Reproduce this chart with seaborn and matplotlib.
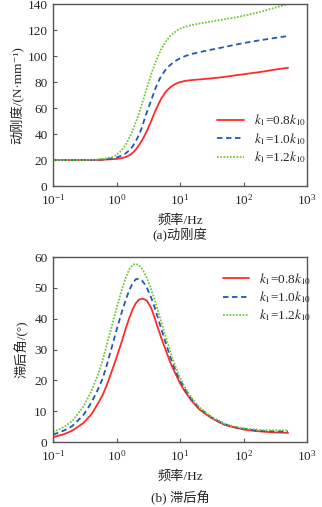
import matplotlib
matplotlib.use('Agg')
import matplotlib.pyplot as plt
import seaborn as sns

# frequency points (Hz), shared by both panels
freq = [0.1, 0.15, 0.2, 0.3, 0.4, 0.5, 0.6, 0.7, 0.8, 0.9, 1.0, 1.2, 1.4, 1.6, 1.8, 2.0,
        2.25, 2.5, 2.75, 3.0, 3.5, 4.0, 4.5, 5.0, 6.0, 7.0, 8.0, 9.0, 10, 12, 15, 20,
        30, 40, 50, 70, 100, 150, 200, 300, 500]

# (a) dynamic stiffness, N/mm
stiff_08 = [20, 20, 20, 20, 20, 20.1, 20.2, 20.4, 20.6, 20.7, 20.9, 21.5, 22.4, 23.8, 25.6, 28,
            31.5, 35, 38.8, 42.5, 50, 57, 62.5, 67, 72.8, 76, 78, 79.2, 80, 80.9, 81.5, 82,
            82.8, 83.4, 84, 85, 86, 87.2, 88, 89.5, 91]
stiff_10 = [20, 20, 20, 20, 20, 20.2, 20.4, 20.7, 21.1, 21.5, 22, 23.4, 25.3, 27.8, 30.8, 34.5,
            39.5, 45, 51.5, 57, 66, 74, 80, 84.5, 90, 93.2, 95.5, 97.1, 98.3, 100, 101.5, 103,
            104.8, 106, 107, 108.5, 110, 111.5, 112.5, 113.8, 115.5]
stiff_12 = [20, 20, 20, 20, 20.2, 20.5, 20.9, 21.4, 22, 22.8, 24, 27.5, 32, 37.5, 43, 49,
            56, 63, 69.5, 75.5, 86, 94, 100, 105, 111.5, 115.5, 118, 119.8, 121, 122.5, 123.8, 125,
            126.5, 127.5, 128.3, 129.5, 131, 133, 134.5, 137, 140]

# (b) lag angle, degrees
lag_08 = [1.6, 2.6, 3.7, 6.2, 9, 12.3, 15.2, 18.5, 21.8, 24.8, 27.5, 32.5, 37, 40.5, 43.2, 45,
          46.2, 46.5, 46.3, 45.8, 43.5, 40, 36.8, 34, 29.5, 25.8, 23.2, 21, 19, 16.3, 13.5, 10.6,
          8.0, 6.6, 5.6, 4.8, 4.1, 3.6, 3.4, 3.15, 3.0]
lag_10 = [2.4, 3.8, 5.2, 8.8, 12.8, 16.8, 20.5, 25, 29.3, 33, 36.5, 42, 46.3, 49.5, 51.6, 52.8,
          53, 52.4, 51.3, 50, 46.8, 43.5, 40, 37, 31.8, 27.6, 24.4, 21.9, 20, 17, 14, 11,
          8.2, 6.8, 5.8, 4.9, 4.3, 3.85, 3.6, 3.45, 3.4]
lag_12 = [3.2, 5.0, 6.8, 11.5, 16.5, 21.5, 26.5, 31.5, 36, 40, 43.5, 49.3, 53.5, 56.2, 57.5, 57.8,
          57.3, 56.2, 54.8, 53.2, 49.5, 46, 42.4, 39.2, 33.8, 29.3, 25.8, 23, 20.8, 17.6, 14.4, 11.3,
          8.4, 7.0, 6.0, 5.1, 4.5, 4.1, 3.9, 3.85, 3.8]

labels = [r'$k_1$=0.8$k_{10}$', r'$k_1$=1.0$k_{10}$', r'$k_1$=1.2$k_{10}$']
colors = ['#ff2a2a', '#2456b4', '#72c83a']
styles = ['-', (0, (3, 2)), (0, (1, 0.8))]

sns.set_style('ticks')
plt.rcParams['font.family'] = ['Liberation Serif', 'Noto Sans CJK SC', 'DejaVu Serif']
plt.rcParams['mathtext.fontset'] = 'stix'
fs = 9.5
plt.rcParams['font.size'] = fs

fig = plt.figure(figsize=(3.22, 5.07), dpi=100)
ax1 = fig.add_axes([0.165, 0.633, 0.789, 0.359])
ax2 = fig.add_axes([0.165, 0.128, 0.789, 0.365])


def style_axes(ax, ylim, yticks):
    ax.set_xscale('log')
    ax.set_xlim(0.1, 1000)
    ax.set_ylim(*ylim)
    ax.set_yticks(yticks)
    ax.set_xticks([0.1, 1, 10, 100, 1000])
    ax.minorticks_off()
    for s in ax.spines.values():
        s.set_color('#555555')
        s.set_linewidth(1.0)
    ax.tick_params(direction='in', length=3, width=0.8, color='#555555', labelsize=fs)
    ax.tick_params(axis='x', pad=5)
    ax.tick_params(axis='y', pad=4)
    ax.set_xlabel('频率/Hz', fontsize=fs, labelpad=5)


for vals, lab, c, ls in zip([stiff_08, stiff_10, stiff_12], labels, colors, styles):
    sns.lineplot(x=freq, y=vals, ax=ax1, color=c, linestyle=ls, linewidth=1.3, label=lab)
for vals, lab, c, ls in zip([lag_08, lag_10, lag_12], labels, colors, styles):
    sns.lineplot(x=freq, y=vals, ax=ax2, color=c, linestyle=ls, linewidth=1.3, label=lab)

style_axes(ax1, (0, 140), range(0, 141, 20))
style_axes(ax2, (0, 60), range(0, 61, 10))
ax1.set_ylabel('动刚度/(N·mm⁻¹)', fontsize=fs, labelpad=2)
ax2.set_ylabel('滞后角/(°)', fontsize=fs, labelpad=4)

ax1.legend(loc='upper left', bbox_to_anchor=(0.6, 0.47), frameon=False, fontsize=fs,
           handlelength=2.0, labelspacing=0.2, handletextpad=0.8)
ax2.legend(loc='upper left', bbox_to_anchor=(0.62, 0.99), frameon=False, fontsize=fs,
           handlelength=2.0, labelspacing=0.2, handletextpad=0.8)

fig.text(0.559, (507 - 235) / 507, '(a)动刚度', ha='center', va='center', fontsize=fs)
fig.text(0.559, (507 - 498) / 507, '(b) 滞后角', ha='center', va='center', fontsize=fs)

fig.savefig('out.png', dpi=100)
